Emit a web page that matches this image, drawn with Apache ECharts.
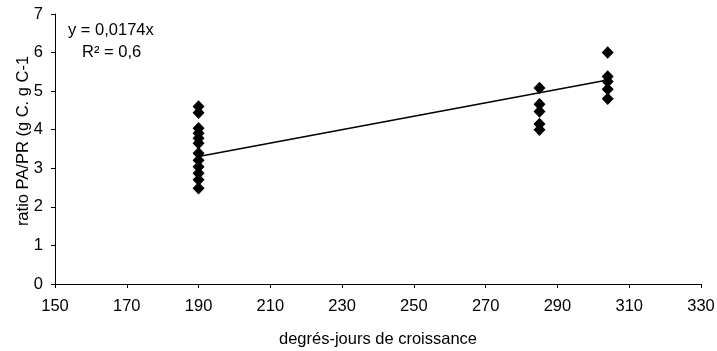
<!DOCTYPE html>
<html>
<head>
<meta charset="utf-8">
<script src="https://cdn.jsdelivr.net/npm/echarts@6/dist/echarts.min.js"></script>
<style>
html,body{margin:0;padding:0;background:#fff;}
#c{width:717px;height:351px;}
</style>
</head>
<body>
<div id="c"></div>
<script>
// Data
const x190 = [190,190,190,190,190,190,190,190,190,190,190,190];
const y190 = [4.6,4.44,4.04,3.91,3.78,3.65,3.39,3.21,3.04,2.87,2.7,2.48];
const x285 = [285,285,285,285,285];
const y285 = [5.08,4.66,4.47,4.15,4.0];
const x304 = [304,304,304,304,304];
const y304 = [6.0,5.38,5.25,5.05,4.8];
const trendX = [190, 304];
const trendY = [3.306, 5.29];
const xTicks = [150,170,190,210,230,250,270,290,310,330];
const yTicks = [0,1,2,3,4,5,6,7];
const xTitle = 'degrés-jours de croissance';
const yTitle = 'ratio PA/PR (g C. g C-1';
const eqText = 'y = 0,0174x';
const r2Text = 'R² = 0,6';

const pts = [];
[[x190,y190],[x285,y285],[x304,y304]].forEach(([xs,ys])=>xs.forEach((x,i)=>pts.push([x,ys[i]])));

const chart = echarts.init(document.getElementById('c'), null, {renderer:'canvas'});
const font = 'Liberation Sans, Arial, sans-serif';
const fs = 16.5;
chart.setOption({
  animation:false,
  backgroundColor:'#fff',
  grid:{left:55,right:16,top:14,bottom:67,containLabel:false,outerBoundsMode:'none'},
  xAxis:{
    type:'value', min:xTicks[0], max:xTicks[xTicks.length-1], interval:20,
    name:xTitle, nameLocation:'middle', nameGap:47,
    nameTextStyle:{color:'#000',fontSize:fs,fontFamily:font},
    axisLine:{lineStyle:{color:'#000',width:1}},
    axisTick:{show:true,inside:false,length:4,lineStyle:{color:'#000'}},
    axisLabel:{color:'#000',fontSize:fs,fontFamily:font,margin:14},
    splitLine:{show:false}
  },
  yAxis:{
    type:'value', min:yTicks[0], max:yTicks[yTicks.length-1], interval:1,
    axisLine:{show:true,lineStyle:{color:'#000',width:1}},
    axisTick:{show:true,inside:false,length:4,lineStyle:{color:'#000'}},
    axisLabel:{color:'#000',fontSize:fs,fontFamily:font,margin:12},
    splitLine:{show:false}
  },
  series:[
    {
      type:'scatter', data:pts, symbol:'diamond', symbolSize:[12,12.5],
      itemStyle:{color:'#000',opacity:1}, z:3
    },
    {
      type:'line', data:trendX.map((x,i)=>[x,trendY[i]]), symbol:'none',
      lineStyle:{color:'#000',width:1.5}, z:2
    }
  ],
  graphic:[
    {type:'text',x:23,y:141,rotation:Math.PI/2,
     style:{text:yTitle,fill:'#000',font:fs+'px '+font,align:'center',verticalAlign:'middle'}},
    {type:'text',left:68,top:22,style:{text:eqText,fill:'#000',font:fs+'px '+font}},
    {type:'text',left:82,top:44,style:{text:r2Text,fill:'#000',font:fs+'px '+font}}
  ]
});
</script>
</body>
</html>
